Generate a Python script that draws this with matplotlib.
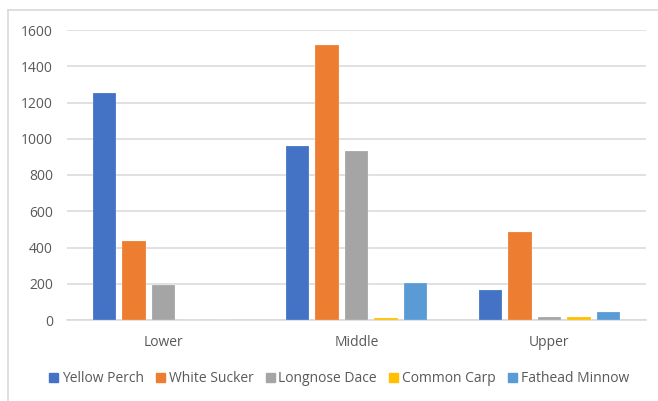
import matplotlib.pyplot as plt
import numpy as np
from matplotlib.patches import Rectangle
from matplotlib.lines import Line2D

categories = ["Lower", "Middle", "Upper"]
species = ["Yellow Perch", "White Sucker", "Longnose Dace", "Common Carp", "Fathead Minnow"]
yellow_perch = [1255, 960, 166]
white_sucker = [435, 1517, 486]
longnose_dace = [193, 930, 15]
common_carp = [0, 11, 15]
fathead_minnow = [0, 206, 44]
series = [yellow_perch, white_sucker, longnose_dace, common_carp, fathead_minnow]
colors = ["#4472C4", "#ED7D31", "#A5A5A5", "#FFC000", "#5B9BD5"]
yticks = [0, 200, 400, 600, 800, 1000, 1200, 1400, 1600]

W, H = 658, 401
fig = plt.figure(figsize=(W / 100, H / 100), dpi=100)
plt.rcParams['font.family'] = ['Open Sans', 'DejaVu Sans']

# chart-area frame (left and top edges visible)
fig.add_artist(Line2D([7.5 / W, 7.5 / W], [0, 1 - 10 / H], transform=fig.transFigure,
                      color="#D9D9D9", lw=1.2))
fig.add_artist(Line2D([7.5 / W, 1], [1 - 10 / H, 1 - 10 / H], transform=fig.transFigure,
                      color="#D9D9D9", lw=1.2))

left, right = 67 / W, 646 / W
bottom, top = 1 - 320 / H, 1 - 30 / H
ax = fig.add_axes([left, bottom, right - left, top - bottom])

x = np.arange(len(categories))
bw = 0.121
pitch = 0.153
for i, (vals, c) in enumerate(zip(series, colors)):
    ax.bar(x + (i - 2) * pitch, vals, width=bw, color=c, edgecolor="#FFFFFF80",
           linewidth=0.3, label=species[i], zorder=3)

ax.set_xlim(-0.5, 2.5)
ax.set_ylim(0, 1600)
ax.set_yticks(yticks)
ax.set_yticklabels([str(v) for v in yticks], color="#595959", fontsize=10)
ax.set_xticks(x)
ax.set_xticklabels(categories, color="#595959", fontsize=10)
ax.tick_params(axis="both", length=0)
ax.tick_params(axis="x", pad=11)
ax.tick_params(axis="y", pad=10)
ax.grid(axis="y", color="#D9D9D9", lw=1.1, zorder=0)
for s in ["top", "right", "left"]:
    ax.spines[s].set_visible(False)
ax.spines["bottom"].set_color("#D9D9D9")
ax.spines["bottom"].set_linewidth(1.1)

handles = [Rectangle((0, 0), 1, 1, color=c) for c in colors]
fig.legend(handles, species, loc="center", bbox_to_anchor=(339 / W, 1 - 379 / H),
           ncol=5, frameon=False, fontsize=10, handlelength=0.65, handleheight=0.65,
           handletextpad=0.25, columnspacing=0.9, labelcolor="#595959")

fig.savefig("out.png", dpi=100, facecolor="white")
